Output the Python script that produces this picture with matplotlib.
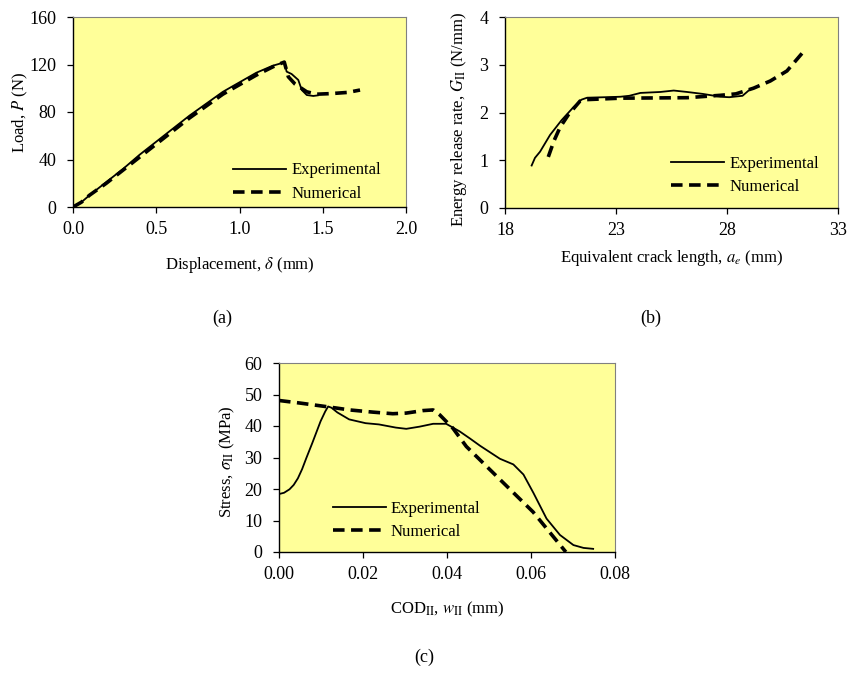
import matplotlib
matplotlib.use("Agg")
import matplotlib.pyplot as plt
import numpy as np

plt.rcParams['font.family'] = ['Liberation Serif', 'DejaVu Serif']
plt.rcParams['mathtext.fontset'] = 'stix'
plt.rcParams['font.size'] = 12

# ---------------- data (a) load-displacement ----------------
a_exp_x = [0, 0.05, 0.1, 0.2, 0.3, 0.4, 0.5, 0.6, 0.7, 0.8, 0.9, 1.0, 1.1, 1.2, 1.25, 1.269,
           1.283, 1.313, 1.353, 1.374, 1.404, 1.443, 1.47]
a_exp_y = [0, 4, 10, 21, 32, 44, 55, 66, 77, 87, 97, 105, 113, 119, 121, 122.4,
           114, 112, 107, 98.5, 94.3, 93.5, 94]
a_num_x = [0, 0.05, 0.1, 0.2, 0.3, 0.4, 0.5, 0.6, 0.7, 0.8, 0.9, 1.0, 1.1, 1.2, 1.25, 1.269,
           1.293, 1.333, 1.404, 1.464, 1.55, 1.65, 1.724]
a_num_y = [0, 4, 10, 20, 31, 42, 53, 64, 75, 85, 95, 103, 111, 118, 121, 122,
           109.7, 103.6, 97, 95, 95.5, 96.5, 98.5]

# ---------------- data (b) R-curve ----------------
b_exp_x = [19.2, 19.35, 19.58, 20.03, 20.55, 21.08, 21.45, 21.7, 22.5, 23.2, 23.6, 24.1,
           25.0, 25.6, 26.2, 26.9, 27.7, 28.1, 28.7, 29.05]
b_exp_y = [0.89, 1.05, 1.18, 1.53, 1.84, 2.11, 2.27, 2.31, 2.32, 2.33, 2.35, 2.41,
           2.43, 2.46, 2.43, 2.39, 2.33, 2.32, 2.35, 2.49]
b_num_x = [19.95, 20.2, 20.48, 20.85, 21.38, 21.68, 23.2, 26.2, 27.7, 28.4, 29.2, 29.95,
           30.7, 31.4]
b_num_y = [1.07, 1.4, 1.69, 1.95, 2.24, 2.27, 2.3, 2.31, 2.36, 2.39, 2.51, 2.66,
           2.87, 3.25]

# ---------------- data (c) cohesive law ----------------
c_exp_x = [0, 0.0012, 0.0025, 0.0035, 0.0045, 0.0055, 0.0065, 0.0079, 0.0099, 0.011, 0.0117,
           0.0125, 0.0139, 0.0167, 0.0206, 0.0238, 0.0278, 0.0303, 0.0335, 0.0367, 0.0398,
           0.043, 0.0455, 0.0479, 0.0526, 0.0558, 0.0582, 0.0606, 0.0637, 0.0669, 0.0701,
           0.0725, 0.0748]
c_exp_y = [18.4, 18.8, 19.9, 21.3, 23.4, 26.3, 29.8, 34.5, 41.5, 44.6, 46.2,
           45.8, 44.3, 42.1, 40.9, 40.5, 39.5, 39.1, 39.8, 40.7, 40.7,
           38.3, 36.0, 33.7, 29.6, 27.8, 24.6, 18.7, 10.6, 5.4, 2.2,
           1.3, 1.0]
c_num_x = [0, 0.0049, 0.0121, 0.0168, 0.0224, 0.0271, 0.0303, 0.0343, 0.0367, 0.0383,
           0.0414, 0.0446, 0.0605, 0.0683]
c_num_y = [48.1, 47.3, 46.0, 45.1, 44.4, 43.9, 44.1, 44.9, 45.1, 43.5,
           39.3, 33.5, 12.7, 0]

W, H = 847, 673
fig = plt.figure(figsize=(W / 100, H / 100), dpi=100)


def make_ax(left, right, top, bottom):
    return fig.add_axes([left / W, 1 - bottom / H, (right - left) / W, (bottom - top) / H])


def style(ax):
    ax.set_facecolor('#FFFF99')
    for s in ['top', 'right']:
        ax.spines[s].set_color('#808080')
        ax.spines[s].set_linewidth(0.8)
    for s in ['left', 'bottom']:
        ax.spines[s].set_linewidth(1.0)
    ax.tick_params(direction='out', length=4, width=0.9, labelsize=13)
    ax.tick_params(axis='x', pad=6)
    ax.tick_params(axis='y', pad=8)


def place_labels(ax, xl_y, yl_x, yl_y=0.5):
    ax.xaxis.set_label_coords(0.5, xl_y)
    ax.xaxis.label.set_va('center')
    ax.yaxis.set_label_coords(yl_x, yl_y)
    ax.yaxis.label.set_va('center')


lw_e, lw_n = 1.3, 2.6
dash = (0, (3.2, 1.8))
leg_kw = dict(frameon=False, fontsize=12, handlelength=3.2, handletextpad=0.3,
              labelspacing=0.42)

# (a)
ax1 = make_ax(73, 406, 17, 207)
style(ax1)
ax1.plot(a_exp_x, a_exp_y, color='black', lw=lw_e, label='Experimental')
ax1.plot(a_num_x, a_num_y, color='black', lw=lw_n, linestyle=dash, label='Numerical')
ax1.set_xlim(0, 2.0)
ax1.set_ylim(0, 160)
ax1.set_xticks([0, 0.5, 1.0, 1.5, 2.0])
ax1.set_xticklabels(['0.0', '0.5', '1.0', '1.5', '2.0'])
ax1.set_yticks([0, 40, 80, 120, 160])
ax1.set_xlabel(r'Displacement, $\delta$ (mm)', fontsize=12)
ax1.set_ylabel(r'Load, $P$ (N)', fontsize=12)
place_labels(ax1, -0.305, -0.159)
ax1.legend(loc='lower right', bbox_to_anchor=(0.97, -0.05), **leg_kw)

# (b)
ax2 = make_ax(505, 838, 17, 208)
style(ax2)
ax2.plot(b_exp_x, b_exp_y, color='black', lw=lw_e, label='Experimental')
ax2.plot(b_num_x, b_num_y, color='black', lw=lw_n, linestyle=dash, label='Numerical')
ax2.set_xlim(18, 33)
ax2.set_ylim(0, 4)
ax2.set_xticks([18, 23, 28, 33])
ax2.set_yticks([0, 1, 2, 3, 4])
ax2.set_xlabel(r'Equivalent crack length, $a_e$ (mm)', fontsize=12)
ax2.set_ylabel(r'Energy release rate, $G_{\mathrm{II}}$ (N/mm)', fontsize=12)
place_labels(ax2, -0.262, -0.138, 0.466)
ax2.legend(loc='lower right', bbox_to_anchor=(0.987, -0.012), **leg_kw)

# (c)
ax3 = make_ax(279, 615, 363, 552)
style(ax3)
ax3.plot(c_exp_x, c_exp_y, color='black', lw=lw_e, label='Experimental')
ax3.plot(c_num_x, c_num_y, color='black', lw=lw_n, linestyle=dash, label='Numerical')
ax3.set_xlim(0, 0.08)
ax3.set_ylim(0, 60)
ax3.set_xticks([0, 0.02, 0.04, 0.06, 0.08])
ax3.set_xticklabels(['0.00', '0.02', '0.04', '0.06', '0.08'])
ax3.set_yticks([0, 10, 20, 30, 40, 50, 60])
ax3.set_xlabel(r'COD$_{\mathrm{II}}$, $w_{\mathrm{II}}$ (mm)', fontsize=12)
ax3.set_ylabel(r'Stress, $\sigma_{\mathrm{II}}$ (MPa)', fontsize=12)
place_labels(ax3, -0.302, -0.155, 0.476)
ax3.legend(loc='lower left', bbox_to_anchor=(0.115, -0.015), **leg_kw)

fig.text(222 / W, 1 - 318 / H, '(a)', ha='center', va='center', fontsize=13)
fig.text(651 / W, 1 - 318 / H, '(b)', ha='center', va='center', fontsize=13)
fig.text(424 / W, 1 - 657 / H, '(c)', ha='center', va='center', fontsize=13)

fig.savefig('out.png', dpi=100, facecolor='white')
